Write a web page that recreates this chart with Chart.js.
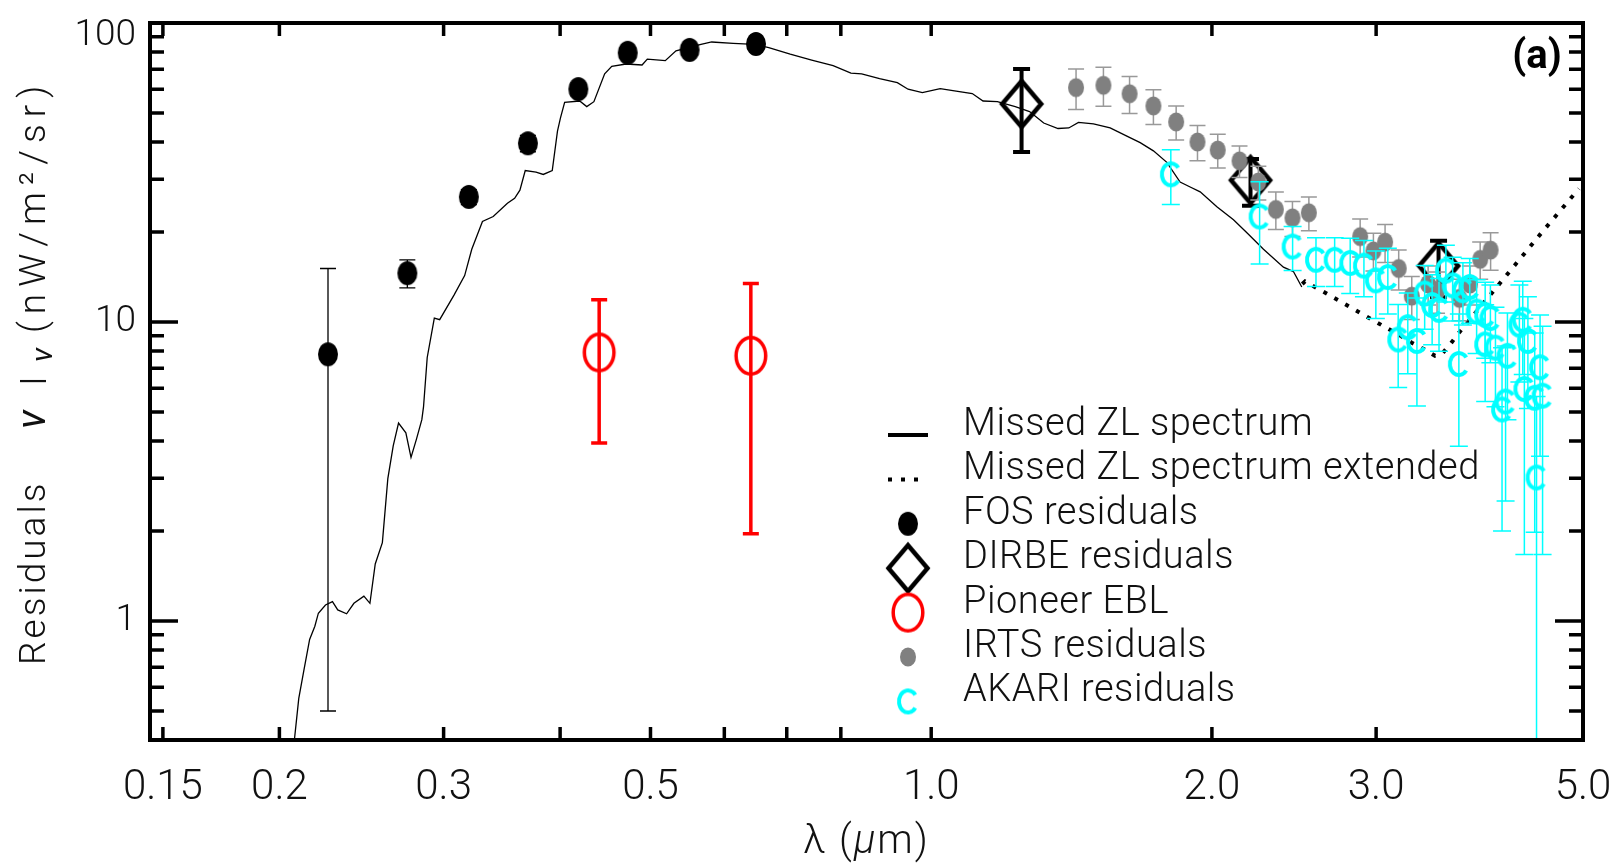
<!DOCTYPE html>
<html>
<head>
<meta charset="utf-8">
<script src="https://cdn.jsdelivr.net/npm/chart.js@4.4.1/dist/chart.umd.min.js"></script>
<style>
  html, body { margin: 0; padding: 0; background: #fff; }
  #wrap { width: 1616px; height: 863px; }
</style>
</head>
<body>
<div id="wrap"><canvas id="mycanvas" width="1616" height="863"></canvas></div>
<script>
// ---- data (wavelength in micron, nuI_nu in nW/m2/sr) ----
var zlLam = [0.2068, 0.2098, 0.2126, 0.2155, 0.2183, 0.2202, 0.2241, 0.2280, 0.2310, 0.2361, 0.2404, 0.2464,
  0.2501, 0.2534, 0.2579, 0.2614, 0.2649, 0.2684, 0.2733, 0.2768, 0.2805, 0.2843, 0.2855, 0.2881, 0.2932,
  0.2971, 0.3078, 0.3160, 0.3216, 0.3302, 0.3391, 0.3512, 0.3575, 0.3622, 0.3670, 0.3769, 0.3837, 0.3923,
  0.3974, 0.4003, 0.4045, 0.4198, 0.4272, 0.4348, 0.4465, 0.4544, 0.4708, 0.4897, 0.4961, 0.5186, 0.5325,
  0.5664, 0.5816, 0.6133, 0.6464, 0.6696, 0.7060, 0.7445, 0.7849, 0.8202, 0.8422, 0.8803, 0.9198, 0.9445,
  0.9783, 1.0225, 1.0592, 1.1067, 1.1366, 1.1775, 1.2306, 1.2749, 1.3202, 1.3677, 1.4045, 1.4385, 1.4928,
  1.5557, 1.6211, 1.6753, 1.7310, 1.7893, 1.8489, 1.8955, 1.9429, 2.0246, 2.1094, 2.1804, 2.2716, 2.3863,
  2.4458, 2.4970];
var zlVal = [0.36, 0.551, 0.692, 0.868, 0.961, 1.062, 1.131, 1.161, 1.089, 1.057, 1.146, 1.211,
  1.146, 1.552, 1.829, 2.992, 3.851, 4.594, 4.259, 3.524, 4.052, 4.714, 5.214, 7.61, 10.31,
  10.18, 12.30, 14.30, 17.51, 21.70, 22.54, 24.95, 25.92, 27.60, 32.10, 31.70, 31.15, 32.10,
  43.46, 48.08, 54.27, 54.84, 52.53, 54.55, 67.6, 71.68, 72.93, 72.38, 75.74, 74.82, 80.72,
  84.85, 86.40, 85.49, 84.85, 82.76, 78.67, 75.16, 72.05, 67.96, 67.6, 65.1, 63.13, 60.05,
  58.53, 60.33, 59.29, 58.09, 54.84, 54.55, 52.53, 50.57, 46.29, 44.37, 44.57, 46.54, 45.95,
  44.57, 41.85, 39.79, 37.36, 34.20, 29.39, 28.29, 27.24, 24.31, 21.98, 19.88, 17.51, 15.25,
  14.75, 13.10];

var extLam = [2.50, 2.517, 2.749, 3.000, 3.178, 3.276, 3.377, 3.470, 3.528, 3.607, 3.685, 3.949, 4.227, 4.528, 4.851, 4.95];
var extVal = [13.4, 13.67, 11.70, 10.0, 9.04, 8.53, 8.11, 7.71, 7.81, 8.47, 9.25, 11.99, 15.52, 20.12, 25.92, 27.9];

var fosLam = [0.2255, 0.2743, 0.3193, 0.3694, 0.4184, 0.4727, 0.5507, 0.6488];
var fosVal = [7.80, 14.57, 26.2, 39.6, 60.1, 79.5, 81.3, 85.1];
var fosErr = [7.3, 1.56, 1.5, 2.5, 3, 3, 3, 3];

var dirbeLam = [1.25, 2.2, 3.5];
var dirbeVal = [53.6, 29.8, 15.4];
var dirbeErr = [16.6, 5.3, 3.3];

var pioneerLam = [0.4405, 0.6406];
var pioneerVal = [7.91, 7.71];
var pioneerErr = [3.97, 5.75];

var irtsLam = [1.430, 1.530, 1.632, 1.731, 1.831, 1.930, 2.029, 2.141, 2.243, 2.342, 2.440, 2.541,
  2.884, 2.980, 3.067, 3.172, 3.276, 3.411, 3.487, 3.685, 3.783, 3.879, 3.980];
var irtsVal = [60.8, 61.9, 58.0, 52.8, 46.7, 40.0, 37.6, 34.6, 29.4, 23.8, 22.3, 23.2,
  19.3, 17.3, 18.5, 15.1, 12.2, 13.4, 12.7, 12.0, 13.4, 16.2, 17.4];
var irtsErr = [9.4, 9.2, 8.2, 7, 6.1, 5.4, 4.85, 4.2, 3.8, 3.4, 3, 3,
  2.8, 2.5, 2.7, 2.3, 2, 2, 2, 1.9, 2, 2.3, 2.5];

var akariLam = [1.807, 2.250, 2.441, 2.586, 2.708, 2.814, 2.911, 2.998, 3.088, 3.168, 3.244, 3.318,
  3.382, 3.445, 3.504, 3.564, 3.624, 3.680, 3.717, 3.780, 3.845, 3.927, 3.978, 3.927, 4.028, 4.149,
  4.273, 4.309, 4.364, 4.497, 4.094, 4.130, 4.326, 4.438, 4.525, 4.458];
var akariVal = [31.2, 22.54, 17.88, 16.15, 16.15, 15.76, 15.44, 13.78, 14.14, 8.74, 9.61, 8.64,
  12.46, 11.40, 10.98, 14.86, 13.27, 7.24, 12.77, 13.10, 10.84, 10.57, 10.31, 8.42, 8.21, 7.71,
  9.80, 10.18, 8.64, 7.06, 5.10, 5.42, 5.97, 5.58, 5.67, 3.02];
var akariErr = [6.5, 6.9, 3, 3, 3, 3.3, 3.3, 3.5, 3.5, 2.7, 2.9, 3.4,
  3, 3, 3, 3.2, 3.2, 3.4, 3, 3.2, 3, 3, 3, 3, 3, 3,
  3.5, 3.5, 3.5, 3.5, 3.1, 2.9, 4.3, 3.6, 4.0, 2.62];

var xTickVals = [0.15, 0.2, 0.3, 0.4, 0.5, 0.6, 0.7, 0.8, 1.0, 2.0, 3.0, 5.0];
var xTickLabels = ['0.15', '0.2', '0.3', '', '0.5', '', '', '', '1.0', '2.0', '3.0', '5.0'];
var yTickVals = [0.4, 0.5, 0.6, 0.7, 0.8, 0.9, 1, 2, 3, 4, 5, 6, 7, 8, 9,
  10, 20, 30, 40, 50, 60, 70, 80, 90, 100];
var yMajor = [1, 10, 100];

// ---- marker shapes ----
function makeMarker(w, h, draw) {
  var c = document.createElement('canvas');
  c.width = w; c.height = h;
  draw(c.getContext('2d'), w / 2, h / 2);
  return c;
}
var fosMark = makeMarker(22, 26, function (g, cx, cy) {
  g.beginPath(); g.ellipse(cx, cy, 10, 12, 0, 0, 2 * Math.PI); g.fillStyle = '#000'; g.fill();
});
var irtsMark = makeMarker(18, 22, function (g, cx, cy) {
  g.beginPath(); g.ellipse(cx, cy, 8, 9.5, 0, 0, 2 * Math.PI); g.fillStyle = '#808080'; g.fill();
});
var pioneerMark = makeMarker(38, 44, function (g, cx, cy) {
  g.beginPath(); g.ellipse(cx, cy, 14.8, 18.2, 0, 0, 2 * Math.PI);
  g.lineWidth = 3.5; g.strokeStyle = '#ff0000'; g.stroke();
});
var dirbeMark = makeMarker(50, 56, function (g, cx, cy) {
  g.beginPath();
  g.moveTo(cx, cy - 23); g.lineTo(cx + 19.5, cy); g.lineTo(cx, cy + 23); g.lineTo(cx - 19.5, cy); g.closePath();
  g.lineWidth = 4.5; g.strokeStyle = '#000'; g.lineJoin = 'miter'; g.stroke();
});
var akariMark = makeMarker(28, 32, function (g, cx, cy) {
  g.beginPath(); g.ellipse(cx, cy, 9, 11, 0, 0.2 * Math.PI, 1.8 * Math.PI);
  g.lineWidth = 4; g.strokeStyle = '#00ffff'; g.stroke();
});

function pts(xs, ys) {
  return xs.map(function (x, i) { return { x: x, y: ys[i] }; });
}

// ---- plugins ----
var errorBars = {
  id: 'errorBars',
  beforeDatasetDraw: function (chart, args) {
    var ds = chart.data.datasets[args.index];
    var eb = ds.errorBars;
    if (!eb) return;
    var xs = chart.scales.x, ys = chart.scales.y, a = chart.chartArea, ctx = chart.ctx;
    ctx.save();
    ctx.beginPath(); ctx.rect(a.left, a.top, a.right - a.left, a.bottom - a.top); ctx.clip();
    ctx.strokeStyle = eb.color; ctx.lineWidth = eb.width;
    ds.data.forEach(function (p, i) {
      var e = eb.err[i];
      var px = xs.getPixelForValue(p.x);
      var top = ys.getPixelForValue(p.y + e);
      var lo = p.y - e;
      var bot = lo > 0 ? ys.getPixelForValue(lo) : a.bottom + 20;
      ctx.beginPath();
      ctx.moveTo(px, top); ctx.lineTo(px, bot);
      ctx.moveTo(px - eb.cap / 2, top); ctx.lineTo(px + eb.cap / 2, top);
      ctx.moveTo(px - eb.cap / 2, bot); ctx.lineTo(px + eb.cap / 2, bot);
      ctx.stroke();
    });
    ctx.restore();
  }
};

var frameTicks = {
  id: 'frameTicks',
  afterDatasetsDraw: function (chart) {
    var ctx = chart.ctx, a = chart.chartArea, x = chart.scales.x, y = chart.scales.y;
    ctx.save();
    ctx.strokeStyle = '#000'; ctx.lineWidth = 3.5;
    ctx.beginPath();
    x.ticks.forEach(function (t) {
      var px = x.getPixelForValue(t.value);
      ctx.moveTo(px, a.bottom); ctx.lineTo(px, a.bottom - 13);
      ctx.moveTo(px, a.top); ctx.lineTo(px, a.top + 13);
    });
    y.ticks.forEach(function (t) {
      var py = y.getPixelForValue(t.value);
      var len = yMajor.indexOf(t.value) >= 0 ? 28 : 14;
      ctx.moveTo(a.left, py); ctx.lineTo(a.left + len, py);
      ctx.moveTo(a.right, py); ctx.lineTo(a.right - len, py);
    });
    ctx.stroke();
    ctx.lineWidth = 4;
    ctx.strokeRect(a.left, a.top, a.right - a.left, a.bottom - a.top);
    ctx.restore();
  }
};

var fam = 'Roboto, "Liberation Sans", Arial, sans-serif';

var legendBox = {
  id: 'legendBox',
  afterDraw: function (chart, args, opts) {
    var ctx = chart.ctx;
    ctx.save();
    ctx.font = '300 38px ' + fam;
    ctx.letterSpacing = '0.5px';
    ctx.fillStyle = '#111'; ctx.textAlign = 'left'; ctx.textBaseline = 'alphabetic';
    chart.data.datasets.forEach(function (ds, i) {
      var yb = opts.y + i * opts.step;
      ctx.fillText(ds.label, opts.x, yb);
      var ps = ds.pointStyle;
      if (ps && ps.getContext) {
        ctx.drawImage(ps, opts.symX - ps.width / 2, yb - ps.height / 2);
      } else {
        ctx.save();
        ctx.strokeStyle = '#000'; ctx.lineWidth = 4;
        ctx.setLineDash(ds.borderDash ? [4, 9] : []);
        ctx.beginPath(); ctx.moveTo(opts.symX - 20, yb); ctx.lineTo(opts.symX + (ds.borderDash ? 14 : 20), yb); ctx.stroke();
        ctx.restore();
      }
    });
    ctx.restore();
  }
};

function drawUp(ctx, text, xBase, yStart, font, spacing) {
  ctx.save();
  ctx.translate(xBase, yStart);
  ctx.rotate(-Math.PI / 2);
  ctx.font = font;
  ctx.letterSpacing = spacing + 'px';
  ctx.textAlign = 'left'; ctx.textBaseline = 'alphabetic';
  ctx.fillText(text, 0, 0);
  ctx.restore();
}

var titles = {
  id: 'titles',
  afterDraw: function (chart) {
    var ctx = chart.ctx, a = chart.chartArea;
    ctx.save();
    ctx.fillStyle = '#111';
    // y title
    drawUp(ctx, 'Residuals', 45, 665, '300 37px ' + fam, 3);
    drawUp(ctx, '\u03bd', 45, 429, 'italic 40px ' + fam, 0);
    drawUp(ctx, 'I', 46, 386, '300 37px ' + fam, 0);
    drawUp(ctx, '\u03bd', 52, 362, 'italic 30px ' + fam, 0);
    drawUp(ctx, '(nW/m\u00b2/sr)', 45, 333, '300 37px ' + fam, 7);
    // x title
    var parts = [['\u03bb (', '300 '], ['\u03bc', 'italic 300 '], ['m)', '300 ']];
    ctx.letterSpacing = '2px';
    var total = 0;
    parts.forEach(function (p) { ctx.font = p[1] + '40px ' + fam; total += ctx.measureText(p[0]).width; });
    var xx = (a.left + a.right) / 2 - total / 2;
    ctx.textBaseline = 'alphabetic'; ctx.textAlign = 'left';
    parts.forEach(function (p) { ctx.font = p[1] + '40px ' + fam; ctx.fillText(p[0], xx, 853); xx += ctx.measureText(p[0]).width; });
    ctx.letterSpacing = '0px';
    // panel tag
    ctx.font = 'bold 40px ' + fam;
    ctx.fillStyle = '#000'; ctx.textAlign = 'center'; ctx.textBaseline = 'middle';
    ctx.fillText('(a)', a.right - 46, a.top + 35);
    ctx.restore();
  }
};

var ctx = document.getElementById('mycanvas').getContext('2d');
var chart = new Chart(ctx, {
  type: 'scatter',
  data: {
    datasets: [
      { label: 'Missed ZL spectrum', data: pts(zlLam, zlVal), showLine: true, borderColor: '#000',
        borderWidth: 1.3, pointRadius: 0, order: 6 },
      { label: 'Missed ZL spectrum extended', data: pts(extLam, extVal), showLine: true, borderColor: '#000',
        borderWidth: 4, borderDash: [4, 8.5], pointRadius: 0, order: 5 },
      { label: 'FOS residuals', data: pts(fosLam, fosVal), pointStyle: fosMark, pointRadius: 11, order: 4,
        errorBars: { err: fosErr, color: '#000', width: 1.3, cap: 16 } },
      { label: 'DIRBE residuals', data: pts(dirbeLam, dirbeVal), pointStyle: dirbeMark, pointRadius: 22, order: 3,
        errorBars: { err: dirbeErr, color: '#000', width: 4, cap: 17 } },
      { label: 'Pioneer EBL', data: pts(pioneerLam, pioneerVal), pointStyle: pioneerMark, pointRadius: 18, order: 2,
        errorBars: { err: pioneerErr, color: '#ff0000', width: 3.5, cap: 16 } },
      { label: 'IRTS residuals', data: pts(irtsLam, irtsVal), pointStyle: irtsMark, pointRadius: 9, order: 1,
        errorBars: { err: irtsErr, color: '#999999', width: 1.5, cap: 16 } },
      { label: 'AKARI residuals', data: pts(akariLam, akariVal), pointStyle: akariMark, pointRadius: 10, order: 0,
        errorBars: { err: akariErr, color: '#00ffff', width: 1.5, cap: 18 } }
    ]
  },
  options: {
    responsive: false,
    animation: false,
    layout: { padding: { left: 0, right: 33, top: 12, bottom: 0 } },
    plugins: {
      legend: { display: false },
      tooltip: { enabled: false },
      legendBox: { x: 963, y: 435, step: 44.4, symX: 908 }
    },
    scales: {
      x: {
        type: 'logarithmic', min: 0.1453, max: 5.0,
        afterBuildTicks: function (s) { s.ticks = xTickVals.map(function (v) { return { value: v }; }); },
        afterFit: function (s) { s.height = 123; s.paddingLeft = 0; s.paddingRight = 0; },
        grid: { display: false, drawTicks: false },
        border: { display: false },
        ticks: {
          autoSkip: false, maxRotation: 0, minRotation: 0, padding: 23, color: '#111',
          font: { family: fam, size: 42, weight: 300, lineHeight: 1.2 },
          callback: function (v, i) { return xTickLabels[i]; }
        }
      },
      y: {
        type: 'logarithmic', min: 0.4, max: 100,
        afterBuildTicks: function (s) { s.ticks = yTickVals.map(function (v) { return { value: v }; }); },
        afterFit: function (s) { s.width = 150; s.paddingTop = 0; s.paddingBottom = 0; },
        grid: { display: false, drawTicks: false },
        border: { display: false },
        ticks: {
          autoSkip: false, padding: 14, color: '#111',
          font: { family: fam, size: 37, weight: 300, lineHeight: 0.7 },
          callback: function (v) {
            if (v === 100) return ['', '100'];
            return yMajor.indexOf(v) >= 0 ? String(v) : '';
          }
        }
      }
    }
  },
  plugins: [errorBars, frameTicks, legendBox, titles]
});
</script>
</body>
</html>
